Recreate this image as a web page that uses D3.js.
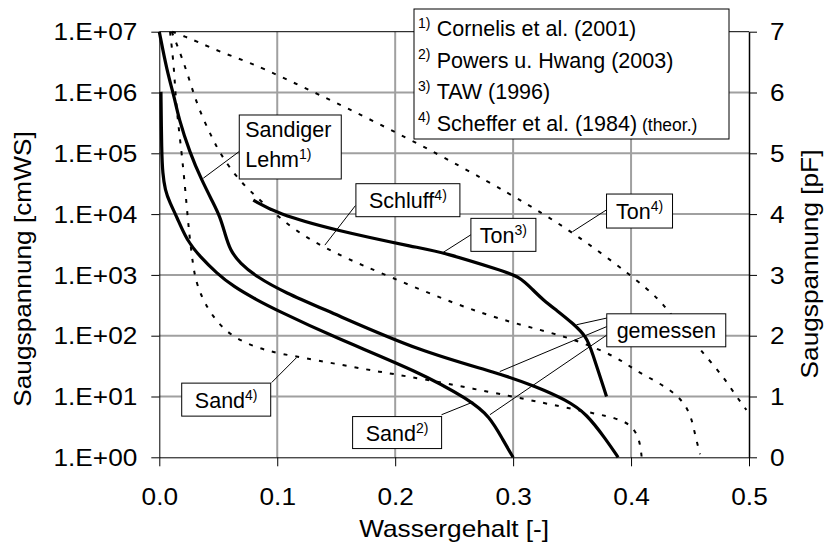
<!DOCTYPE html>
<html>
<head>
<meta charset="utf-8">
<script src="https://cdn.jsdelivr.net/npm/d3@7"></script>
<style>
  body { margin: 0; background: #fff; }
  svg { display: block; font-family: "Liberation Sans", Arial, sans-serif; }
</style>
</head>
<body>
<div id="chart"></div>
<script>
// Saugspannungskurven – Wassergehalt vs. Saugspannung (log cmWS / pF)

const xTicks = [0, 0.1, 0.2, 0.3, 0.4, 0.5];
const cmwsTicks = [1e0, 1e1, 1e2, 1e3, 1e4, 1e5, 1e6, 1e7];
const pfTicks = [0, 1, 2, 3, 4, 5, 6, 7];

// solid: Sandiger Lehm (Cornelis et al. 2001)
const lehmTheta = [0, 0.0063, 0.0133, 0.0161, 0.026, 0.0359, 0.0458, 0.0514, 0.0557, 0.0599, 0.0684, 0.0825, 0.1051, 0.1475, 0.221, 0.2887, 0.3198, 0.3453, 0.3622, 0.3792, 0.389];
const lehmPF    = [7.0, 6.37, 5.88, 5.60, 5.0, 4.56, 4.18, 3.96, 3.68, 3.41, 3.19, 2.97, 2.72, 2.37, 1.74, 1.38, 1.16, 0.94, 0.72, 0.28, 0.0];

// solid: Sand (Powers u. Hwang 2003)
const sandTheta = [0.0014, 0.0014, 0.002, 0.0029, 0.0048, 0.0091, 0.0147, 0.0232, 0.0345, 0.0486, 0.0627, 0.0825, 0.0995, 0.1475, 0.2209, 0.2633, 0.2803, 0.2915, 0.300, 0.300];
const sandPF    = [6.01, 6.01, 5.0, 4.67, 4.40, 4.18, 3.96, 3.57, 3.30, 3.03, 2.81, 2.59, 2.42, 1.98, 1.40, 0.94, 0.67, 0.28, 0.0, 0.0];

// solid: Ton (TAW 1996)
const tonTheta = [0.0797, 0.0797, 0.0995, 0.1475, 0.221, 0.2407, 0.289, 0.3057, 0.3169, 0.3254, 0.3367, 0.351, 0.3622, 0.3665, 0.3792, 0.3792];
const tonPF    = [4.23, 4.23, 4.01, 3.74, 3.44, 3.37, 3.08, 2.97, 2.75, 2.59, 2.42, 2.20, 1.98, 1.76, 1.0, 1.0];

// dotted: Scheffer et al. (1984), theoretical
const ton4Theta = [0.011, 0.011, 0.0218, 0.0317, 0.0514, 0.0741, 0.1008, 0.2153, 0.3014, 0.3481, 0.4017, 0.4243, 0.4328, 0.4639, 0.478, 0.4893, 0.4978, 0.4978];
const ton4PF    = [7.0, 7.0, 6.92, 6.84, 6.67, 6.51, 6.29, 5.22, 4.29, 3.74, 2.97, 2.59, 2.37, 1.65, 1.33, 1.0, 0.78, 0.78];

const schluff4Theta = [0.0105, 0.0105, 0.019, 0.026, 0.0331, 0.0444, 0.0514, 0.0669, 0.0881, 0.1136, 0.1475, 0.1955, 0.2492, 0.300, 0.348, 0.3904, 0.4017, 0.4356, 0.4498, 0.454, 0.4585, 0.4585];
const schluff4PF    = [7.0, 7.0, 6.59, 6.18, 5.74, 5.27, 5.0, 4.56, 4.18, 3.74, 3.36, 2.97, 2.53, 2.20, 1.98, 1.63, 1.44, 1.11, 0.78, 0.39, 0.05, 0.05];

const sand4Theta = [0.0091, 0.0091, 0.0119, 0.0133, 0.0147, 0.019, 0.0218, 0.0243, 0.026, 0.0288, 0.031, 0.0345, 0.043, 0.0599, 0.091, 0.1192, 0.1758, 0.221, 0.300, 0.3537, 0.3904, 0.4017, 0.4074, 0.409, 0.409];
const sand4PF    = [7.0, 7.0, 6.53, 6.12, 5.71, 5.0, 4.45, 3.90, 3.57, 3.13, 2.92, 2.70, 2.37, 1.98, 1.74, 1.65, 1.44, 1.30, 1.0, 0.78, 0.64, 0.50, 0.28, 0.0, 0.0];

const legendRefs = ["1)", "2)", "3)", "4)"];
const legendTexts = ["Cornelis et al. (2001)", "Powers u. Hwang (2003)", "TAW (1996)", "Scheffer et al. (1984)"];

const series = [
  { theta: lehmTheta, pf: lehmPF, dotted: false },
  { theta: sandTheta, pf: sandPF, dotted: false },
  { theta: tonTheta, pf: tonPF, dotted: false },
  { theta: ton4Theta, pf: ton4PF, dotted: true },
  { theta: schluff4Theta, pf: schluff4PF, dotted: true },
  { theta: sand4Theta, pf: sand4PF, dotted: true }
];

// label boxes: top-left corner and leader lines in data units (theta, pF)
const labels = [
  { lines: [["Sandiger", ""], ["Lehm", "1)"]], at: [0.0678, 5.63], w: 102, h: 64,
    leaders: [[0.0678, 5.03, 0.0373, 4.59]] },
  { lines: [["Schluff", "4)"]], at: [0.1667, 4.50], w: 104, h: 33,
    leaders: [[0.1663, 4.14, 0.1404, 3.49]] },
  { lines: [["Ton", "4)"]], at: [0.3792, 4.33], w: 66, h: 34,
    leaders: [[0.3792, 4.07, 0.3503, 3.71]] },
  { lines: [["Ton", "3)"]], at: [0.2642, 3.93], w: 65, h: 33,
    leaders: [[0.2642, 3.66, 0.2407, 3.37]] },
  { lines: [["gemessen", ""]], at: [0.3794, 2.36], w: 119, h: 33,
    leaders: [[0.3794, 2.29, 0.3537, 2.18], [0.3794, 2.15, 0.2887, 1.41], [0.3794, 2.01, 0.2803, 0.70]] },
  { lines: [["Sand", "2)"]], at: [0.1639, 0.67], w: 89, h: 32,
    leaders: [[0.2393, 0.70, 0.2661, 0.91]] },
  { lines: [["Sand", "4)"]], at: [0.019, 1.22], w: 89, h: 33,
    leaders: [[0.0953, 1.23, 0.1164, 1.64]] }
];

const width = 825, height = 550;
const margin = { top: 31.7, right: 76, bottom: 92.7, left: 159.3 };
const SX = 1.14; // axis fonts are drawn slightly wide

const svg = d3.select("#chart").append("svg")
  .attr("width", width)
  .attr("height", height);

svg.append("rect").attr("width", width).attr("height", height).attr("fill", "#fff");

const x = d3.scaleLinear().domain([0, 0.5]).range([margin.left, width - margin.right]);
const y = d3.scaleLog().domain([1, 1e7]).range([height - margin.bottom, margin.top]);
const yPF = d3.scaleLinear().domain([0, 7]).range([height - margin.bottom, margin.top]);

const x0 = x.range()[0], x1 = x.range()[1];
const yb = y.range()[0], yt = y.range()[1];

// grid
const grid = svg.append("g").attr("stroke", "#a0a0a0").attr("stroke-width", 2);
grid.selectAll("line.v")
  .data(xTicks.filter(d => d > 0 && d < 0.5))
  .enter().append("line")
  .attr("x1", d => x(d)).attr("x2", d => x(d))
  .attr("y1", yt).attr("y2", yb);
grid.selectAll("line.h")
  .data(cmwsTicks.filter(d => d > 1 && d < 1e7))
  .enter().append("line")
  .attr("x1", x0).attr("x2", x1)
  .attr("y1", d => y(d)).attr("y2", d => y(d));

// top border
svg.append("line")
  .attr("x1", x0).attr("x2", x1).attr("y1", yt).attr("y2", yt)
  .attr("stroke", "#000").attr("stroke-width", 1);

const fmtExp = d => "1.E+" + String(Math.round(Math.log10(d))).padStart(2, "0");

function styleAxis(g) {
  g.select(".domain").attr("stroke", "#000");
  g.selectAll(".tick line").attr("stroke", "#000");
  g.selectAll("text")
    .attr("fill", "#000")
    .style("font-size", "23px");
}

// left axis
const gLeft = svg.append("g")
  .attr("transform", `translate(${x0},0)`)
  .call(d3.axisLeft(y).tickValues(cmwsTicks).tickFormat(fmtExp).tickSize(8).tickSizeOuter(0));
styleAxis(gLeft);
gLeft.selectAll("text")
  .attr("x", -22 / SX)
  .attr("dy", "0.36em")
  .attr("transform", `scale(${SX},1)`);

// bottom axis
const gBottom = svg.append("g")
  .attr("transform", `translate(0,${yb})`)
  .call(d3.axisBottom(x).tickValues(xTicks).tickFormat(d3.format(".1f")).tickSize(9).tickSizeOuter(0));
styleAxis(gBottom);
gBottom.selectAll("text")
  .attr("y", 48)
  .attr("dy", 0)
  .attr("transform", `scale(${SX},1)`);

// right axis (pF)
const gRight = svg.append("g")
  .attr("transform", `translate(${x1},0)`)
  .call(d3.axisRight(yPF).tickValues(pfTicks).tickFormat(d3.format("d")).tickSize(8).tickSizeOuter(0));
styleAxis(gRight);
gRight.select(".domain").attr("stroke-width", 1.5);
gRight.selectAll("text")
  .attr("x", 21 / SX)
  .attr("dy", "0.36em")
  .attr("transform", `scale(${SX},1)`);

// axis titles
svg.append("text")
  .attr("transform", `translate(${(x0 + x1) / 2},537) scale(${SX},1)`)
  .attr("text-anchor", "middle")
  .style("font-size", "23px")
  .text("Wassergehalt [-]");

svg.append("text")
  .attr("transform", `translate(31,269) rotate(-90) scale(${SX},1)`)
  .attr("text-anchor", "middle")
  .style("font-size", "23px")
  .text("Saugspannung [cmWS]");

svg.append("text")
  .attr("transform", `translate(818,264) rotate(-90) scale(${SX},1)`)
  .attr("text-anchor", "middle")
  .style("font-size", "23px")
  .text("Saugspannung [pF]");

// curves (end points doubled so the smoothed path reaches them)
const line = d3.line()
  .x(d => x(d[0]))
  .y(d => yPF(d[1]))
  .curve(d3.curveBasis);

svg.append("g")
  .selectAll("path")
  .data(series)
  .enter().append("path")
  .attr("d", s => line(s.theta.map((t, i) => [t, s.pf[i]])))
  .attr("fill", "none")
  .attr("stroke", "#000")
  .attr("stroke-width", s => s.dotted ? 2 : 3.2)
  .attr("stroke-dasharray", s => s.dotted ? "4,8" : null)
  .attr("stroke-linejoin", "round");

// label boxes with leader lines
labels.forEach(lb => {
  const g = svg.append("g");
  lb.leaders.forEach(l => {
    g.append("line")
      .attr("x1", x(l[0])).attr("y1", yPF(l[1]))
      .attr("x2", x(l[2])).attr("y2", yPF(l[3]))
      .attr("stroke", "#000").attr("stroke-width", 1);
  });
  const bx = x(lb.at[0]), by = yPF(lb.at[1]);
  g.append("rect")
    .attr("x", bx).attr("y", by)
    .attr("width", lb.w).attr("height", lb.h)
    .attr("fill", "#fff").attr("stroke", "#000").attr("stroke-width", 1);
  const multi = lb.lines.length > 1;
  lb.lines.forEach((ln, i) => {
    const t = g.append("text")
      .attr("x", multi ? bx + 6 : bx + lb.w / 2)
      .attr("y", multi ? by + 22 + i * 30 : by + 24.5)
      .attr("text-anchor", multi ? "start" : "middle")
      .style("font-size", "21.5px");
    t.append("tspan").text(ln[0]);
    if (ln[1]) {
      t.append("tspan").attr("dy", -8).style("font-size", "14px").text(ln[1]);
    }
  });
});

// legend
const legend = svg.append("g");
legend.append("rect")
  .attr("x", 414).attr("y", 9).attr("width", 315).attr("height", 130)
  .attr("fill", "#fff").attr("stroke", "#000").attr("stroke-width", 1);

legendTexts.forEach((txt, i) => {
  const base = 36 + i * 31.5;
  legend.append("text")
    .attr("x", 418).attr("y", base - 8.5)
    .style("font-size", "14px")
    .text(legendRefs[i]);
  const t = legend.append("text")
    .attr("x", 436.7).attr("y", base)
    .style("font-size", "21.5px");
  t.append("tspan").text(txt);
  if (i === 3) {
    t.append("tspan").style("font-size", "17.5px").text(" (theor.)");
  }
});
</script>
</body>
</html>
